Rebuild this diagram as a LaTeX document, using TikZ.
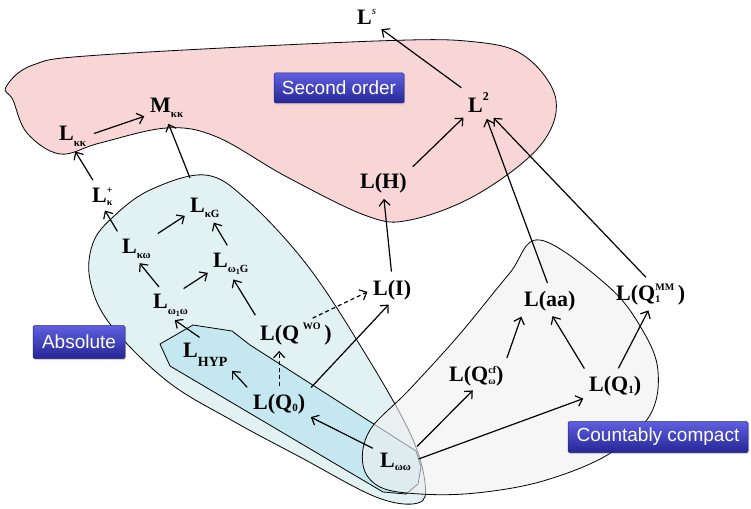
\documentclass[tikz,border=0pt]{standalone}
\usepackage{fontspec}
\setmainfont{Liberation Serif}
\newfontfamily\lblfont{Liberation Sans}
\usetikzlibrary{arrows.meta,shadows}
\newcommand\sbx[2][-5pt]{\raisebox{#1}{\fontsize{11}{11}\selectfont #2}}
\newcommand\spx[2][12pt]{\raisebox{#1}{\fontsize{10}{10}\selectfont #2}}
\newcommand\oneidx{\raisebox{-2pt}{\fontsize{8}{8}\selectfont 1}}
\newsavebox\SupBox
\newsavebox\SubBox
\newcommand\supsub[4]{%
 \sbox\SupBox{\raisebox{#2}{\fontsize{10}{10}\selectfont #1}}%
 \sbox\SubBox{\raisebox{#4}{\fontsize{10}{10}\selectfont #3}}%
 \ifdim\wd\SupBox>\wd\SubBox \rlap{\usebox\SubBox}\usebox\SupBox\else\rlap{\usebox\SupBox}\usebox\SubBox\fi}
\definecolor{pinkreg}{RGB}{248,214,214}
\definecolor{absreg}{RGB}{226,242,243}
\definecolor{hypreg}{RGB}{197,232,240}
\definecolor{ccreg}{RGB}{240,240,240}
\definecolor{lbltop}{RGB}{95,95,225}
\definecolor{lblbot}{RGB}{38,38,150}
\definecolor{lbledge}{RGB}{35,35,120}
\tikzset{
 nd/.style={font=\fontsize{22}{22}\selectfont\bfseries, inner sep=1pt, anchor=base west},
 ar/.style={line width=1.2pt, -{Straight Barb[length=6pt,width=11pt]}, shorten >=5pt, shorten <=7pt},
 dar/.style={ar, dash pattern=on 4pt off 3pt},
 reg/.style={draw=black, line width=0.8pt},
 lbl/.style={font=\lblfont\fontsize{19}{19}\selectfont, text=white, rounded corners=1.5pt,
   top color=lbltop, bottom color=lblbot, draw=lbledge, line width=0.5pt,
   drop shadow={opacity=0.35, shadow xshift=1pt, shadow yshift=-1.5pt}}
}
\begin{document}
\begin{tikzpicture}[x=1pt,y=-1pt]
\useasboundingbox (0,0) rectangle (751,508);
% regions
\draw[reg, fill=pinkreg] plot[smooth cycle, tension=0.6] coordinates {
 (6,87) (33,65) (100,55) (376,41) (476,42) (526,57) (556,100) (539,147) (476,195)
 (410,220) (367,216) (287,177) (217,137) (167,128) (100,143) (60,154) (27,133) (13,100)};
\draw[reg, fill=absreg] plot[smooth cycle, tension=0.6] coordinates {
 (205,175) (247,200) (307,265) (363,350) (410,433) (425,483) (418,503) (376,497)
 (300,457) (233,421) (167,381) (110,324) (90,280) (93,243) (113,217) (150,190)};
\draw[reg, fill=hypreg] (160,344) -- (193,325) -- (232,331) -- (250,345) -- (416,451)
 -- (421,467) -- (418,484) -- (406,494) -- (383,492) -- (170,366) -- cycle;
\draw[reg, fill=ccreg, fill opacity=0.6] plot[smooth cycle, tension=0.6] coordinates {
 (540,240) (609,287) (643,331) (658,371) (650,415) (609,454) (543,481) (476,493)
 (420,494) (380,487) (363,465) (370,430) (409,390) (459,335) (509,274)};
% labels
\node[lbl, minimum width=130pt, minimum height=30pt] (so) at (339,88) {Second order};
\node[lbl, minimum width=92pt, minimum height=33pt] (ab) at (79,342) {Absolute};
\node[lbl, minimum width=180pt, minimum height=31pt] (cc) at (658,437) {Countably compact};
% nodes
\node[nd] (Ls) at (356,25) {L\raisebox{10pt}{\fontsize{11}{11}\selectfont\mdseries\itshape s}};
\node[nd] (L2) at (467,113) {L\raisebox{12pt}{\fontsize{12}{12}\selectfont 2}};
\node[nd] (Mkk) at (149,113) {M\sbx{κκ}};
\node[nd] (Lkk) at (58,140) {L\sbx[-6pt]{κκ}};
\node[nd] (Lkp) at (91,202) {L\supsub{+}{9pt}{κ}{-3pt}};
\node[nd] (Lkw) at (121,253) {L\sbx{κω}};
\node[nd] (LkG) at (189,212) {L\sbx{κG}};
\node[nd] (Lw1G) at (212,267) {L\sbx{ω\oneidx G}};
\node[nd] (Lw1w) at (152,308) {L\sbx[-6pt]{ω\oneidx ω}};
\node[nd] (LQWO) at (259,340) {L(Q\,\spx[11pt]{WO}\,)};
\node[nd] (LI) at (372,295) {L(I)};
\node[nd] (LH) at (359,188) {L(H)};
\node[nd] (Laa) at (523,306) {L(aa)};
\node[nd] (LQMM) at (615,300) {L(Q\supsub{MM}{10pt}{1}{-2pt}\,)};
\node[nd] (LQcf) at (448,381) {L(Q\supsub{cf}{8pt}{ω}{-3pt})};
\node[nd] (LQ1) at (588,391) {L(Q\sbx[-2pt]{1})};
\node[nd] (Lww) at (379,467) {L\sbx[-3pt]{ωω}};
\node[nd] (LQ0) at (252,409) {L(Q\sbx[-2pt]{0})};
\node[nd] (LHYP) at (182,357) {L\sbx[-9pt]{\fontsize{14}{14}\selectfont HYP}};
\coordinate (absTop) at (190,178);
% arrows
\draw[ar] (Lkk.east) -- (Mkk.200);
\draw[ar] (Lkp.120) -- (Lkk.south);
\draw[ar] (Lkw.north west) -- (Lkp.south);
\draw[ar] (Lkw.north east) -- (LkG.200);
\draw[ar] (Lw1G.north) -- (LkG.-60);
\draw[ar] (Lw1w.120) -- (Lkw.south);
\draw[ar] (Lw1w.60) -- (Lw1G.200);
\draw[ar] (LQWO.north west) -- (Lw1G.south);
\draw[dar] (LQWO.50) -- (LI.west);
\draw[ar] (LI.north) -- (LH.south);
\draw[ar] (LH.north east) -- (L2.south west);
\draw[ar] (L2.north west) -- (Ls.south east);
\draw[ar] (Laa.north) -- (L2.-60);
\draw[ar] (LQMM.north) -- (L2.south east);
\draw[ar] (LQcf.north east) -- (Laa.south west);
\draw[ar] (LQ1.north west) -- (Laa.south);
\draw[ar] (LQ1.north) -- (LQMM.south);
\draw[ar] (Lww.north east) -- (LQcf.south);
\draw[ar] (Lww.east) -- (LQ1.south west);
\draw[ar] (Lww.north west) -- (LQ0.south east);
\draw[ar] (LQ0.north east) -- (LI.south);
\draw[dar] (LQ0.north) -- (LQ0.north |- LQWO.south);
\draw[ar] (LQ0.north west) -- (LHYP.south east);
\draw[ar] (LHYP.north) -- (Lw1w.south);
\draw[ar, shorten <=0pt] (absTop) -- (Mkk.south);
\end{tikzpicture}
\end{document}
